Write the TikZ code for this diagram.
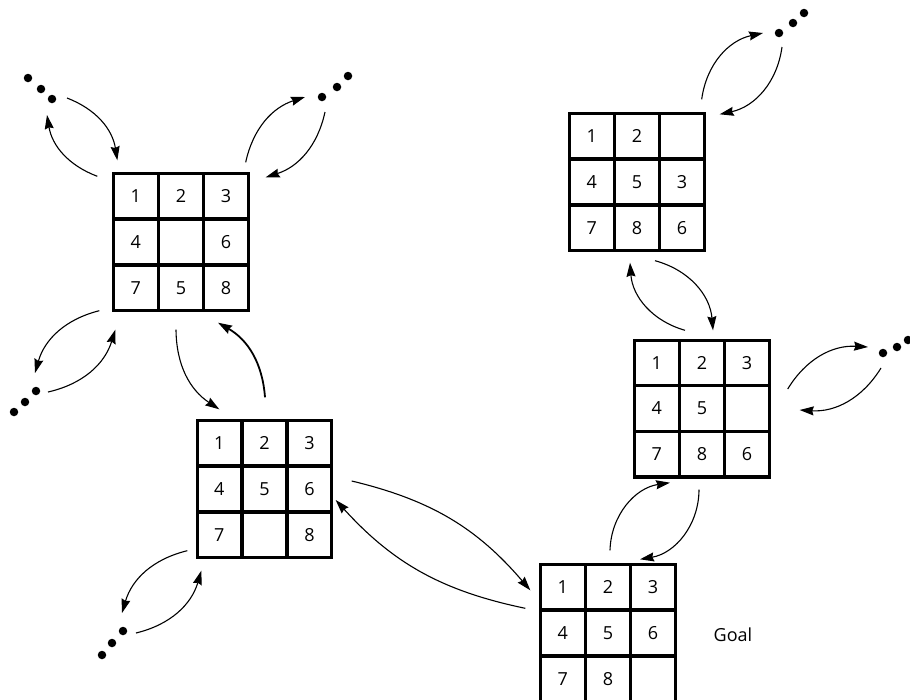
\documentclass[tikz,border=0pt]{standalone}
\usepackage{fontspec}
\setmainfont{Open Sans}
\usetikzlibrary{matrix,arrows.meta}

\tikzset{
  tile/.style={draw, line width=1.8pt, minimum width=43.33pt, minimum height=44pt,
    inner sep=0pt, outer sep=0pt, anchor=center, font=\fontsize{18}{18}\selectfont},
  board/.style={matrix of nodes, nodes in empty cells, inner sep=0pt, outer sep=0pt,
    column sep=0pt, row sep=0pt, nodes={tile}},
  rim/.style={line width=2.6pt},
  dot/.style={circle, fill=black, inner sep=0pt, minimum size=8.5pt},
  move/.style={-{Stealth[length=14pt,width=9pt,inset=1.5pt]}, line width=1.1pt},
  heavymove/.style={move, line width=1.8pt},
}

\begin{document}
\begin{tikzpicture}[x=1pt, y=1pt]
\useasboundingbox (0,0) rectangle (910,-699);

% the five puzzle states
\matrix (A) [board] at (181,-242)   {1 & 2 & 3\\ 4 &   & 6\\ 7 & 5 & 8\\};
\matrix (B) [board] at (264.5,-489) {1 & 2 & 3\\ 4 & 5 & 6\\ 7 &   & 8\\};
\matrix (C) [board] at (637,-182)   {1 & 2 &  \\ 4 & 5 & 3\\ 7 & 8 & 6\\};
\matrix (D) [board] at (702,-408.5) {1 & 2 & 3\\ 4 & 5 &  \\ 7 & 8 & 6\\};
\matrix (E) [board] at (608,-633)   {1 & 2 & 3\\ 4 & 5 & 6\\ 7 & 8 &  \\};
\foreach \b in {A,B,C,D,E}
  \draw[rim] (\b.north west) rectangle (\b.south east);

\node[font=\fontsize{18}{18}\selectfont] (goal) at (733,-635) {Goal};

% ellipses standing for further states
\node[dot] (tl1) at (28,-78) {};   \node[dot] (tl2) at (41,-89) {};   \node[dot] (tl3) at (52,-99) {};
\node[dot] (tr1) at (322,-97) {};  \node[dot] (tr2) at (337,-87) {};  \node[dot] (tr3) at (348,-76) {};
\node[dot] (bl1) at (36,-391) {};  \node[dot] (bl2) at (25,-402) {};  \node[dot] (bl3) at (14,-412) {};
\node[dot] (bb1) at (123,-631) {}; \node[dot] (bb2) at (112,-643) {}; \node[dot] (bb3) at (102,-655) {};
\node[dot] (dr1) at (883,-353) {}; \node[dot] (dr2) at (897,-347) {}; \node[dot] (dr3) at (908,-340) {};
\node[dot] (cr1) at (779,-33) {};  \node[dot] (cr2) at (793,-23) {};  \node[dot] (cr3) at (804,-13) {};

% loose ends next to the ellipses
\coordinate (tlIn)  at (67,-98);   \coordinate (tlOut) at (47,-115);
\coordinate (trOut) at (305,-97);  \coordinate (trIn)  at (325,-112);
\coordinate (blOut) at (35,-373);  \coordinate (blIn)  at (48,-392);
\coordinate (bbOut) at (122,-613); \coordinate (bbIn)  at (136,-633);
\coordinate (drOut) at (868,-347); \coordinate (drIn)  at (881,-368);
\coordinate (crOut) at (763,-33);  \coordinate (crIn)  at (782,-47);

% moves around A
\draw[move] (tlIn) to[bend left=30] ([shift={(4,13)}]A.north west);
\draw[move] ([shift={(-16,-3)}]A.north west) to[bend left=30] (tlOut);
\draw[move] ([shift={(-3,11)}]A.north east) to[bend left=30] (trOut);
\draw[move] (trIn) to[bend left=30] ([shift={(17,-4)}]A.north east);
\draw[move] ([shift={(-14,0)}]A.south west) to[bend right=30] (blOut);
\draw[move] (blIn) to[bend right=30] ([shift={(2,-19)}]A.south west);

% A <-> B
\draw[move] ([shift={(-5,-19)}]A.south) to[bend right=28] ([shift={(22.5,11)}]B.north west);
\draw[heavymove] ([shift={(0.5,23)}]B.north) to[bend right=28] ([shift={(37,-12)}]A.south);

% moves around B
\draw[move] ([shift={(-9.5,7)}]B.south west) to[bend right=30] (bbOut);
\draw[move] (bbIn) to[bend right=30] ([shift={(4.5,-13)}]B.south west);

% B <-> E
\draw[move] ([shift={(19.5,8)}]B.east) to[bend left=18] ([shift={(-10,-26)}]E.north west);
\draw[move] ([shift={(-15,-44)}]E.north west) to[bend left=18] ([shift={(3.5,-11)}]B.east);

% E <-> D
\draw[move] ([shift={(2,14)}]E.north) to[bend left=40] ([shift={(-32,-5.5)}]D.south);
\draw[move] ([shift={(-3,-12.5)}]D.south) to[bend left=40] ([shift={(32,5)}]E.north);

% moves around D
\draw[move] ([shift={(18,19.5)}]D.east) to[bend left=31] (drOut);
\draw[move] (drIn) to[bend left=31] ([shift={(30,-1.5)}]D.east);

% D <-> C
\draw[move] ([shift={(18,-10)}]C.south) to[bend left=35] ([shift={(11,9.5)}]D.north);
\draw[move] ([shift={(-17,9.5)}]D.north) to[bend left=35] ([shift={(-7,-12)}]C.south);

% moves around C
\draw[move] ([shift={(-3,14)}]C.north east) to[bend left=35] (crOut);
\draw[move] (crIn) to[bend left=35] ([shift={(15,-1)}]C.north east);
\end{tikzpicture}
\end{document}
